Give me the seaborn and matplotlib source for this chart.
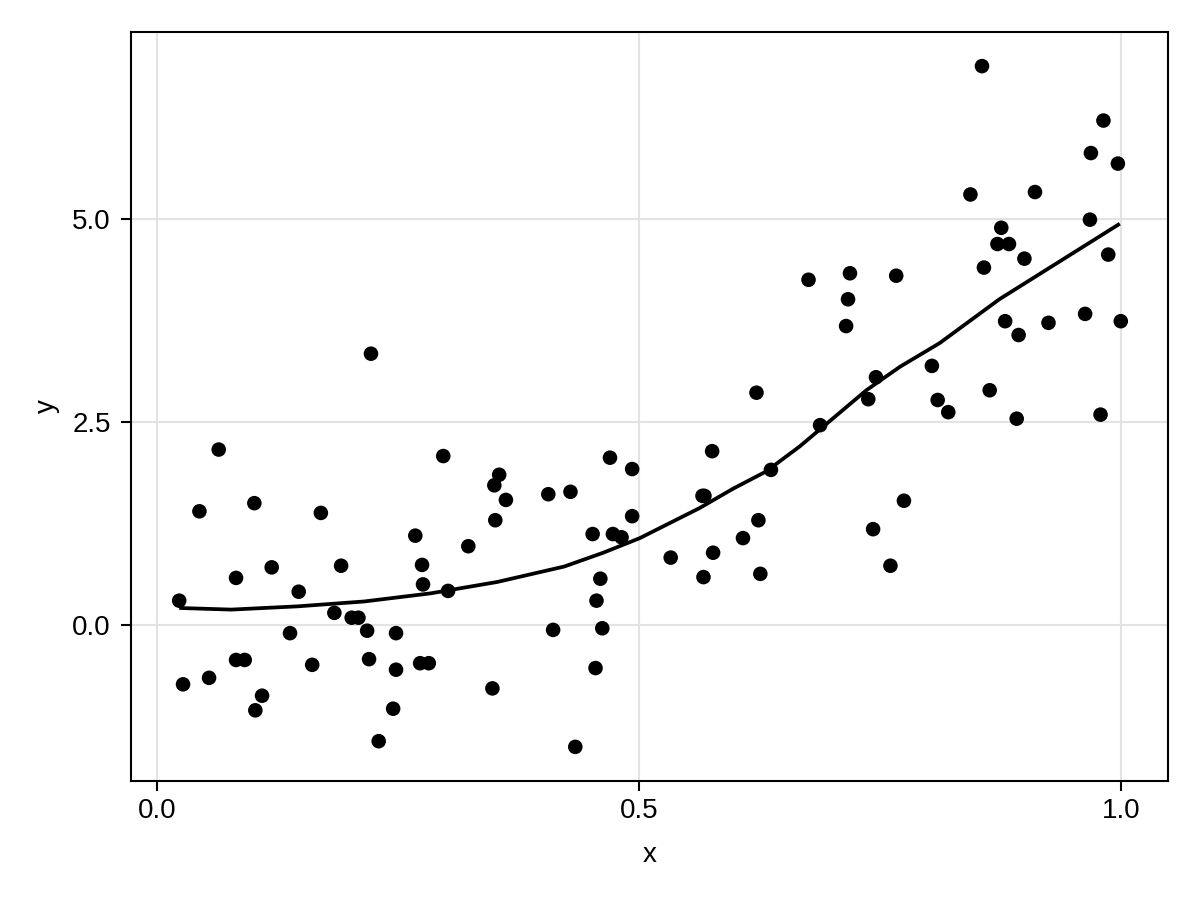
import numpy as np
import pandas as pd
import matplotlib
matplotlib.use("Agg")
import matplotlib.pyplot as plt
import seaborn as sns

# scatter data
x_pts = [0.023, 0.027, 0.044, 0.054, 0.064, 0.082, 0.082, 0.091, 0.101, 0.102,
         0.109, 0.119, 0.138, 0.147, 0.161, 0.170, 0.184, 0.191, 0.202, 0.209,
         0.218, 0.220, 0.222, 0.230, 0.245, 0.248, 0.248, 0.268, 0.273, 0.275,
         0.276, 0.282, 0.297, 0.302, 0.323, 0.348, 0.350, 0.351, 0.355, 0.362,
         0.406, 0.411, 0.429, 0.434, 0.452, 0.455, 0.456, 0.460, 0.462, 0.470,
         0.473, 0.482, 0.493, 0.493, 0.533, 0.566, 0.568, 0.567, 0.576, 0.577,
         0.608, 0.622, 0.624, 0.626, 0.637, 0.676, 0.688, 0.715, 0.717, 0.719,
         0.738, 0.743, 0.746, 0.761, 0.767, 0.775, 0.804, 0.810, 0.821, 0.844,
         0.856, 0.858, 0.864, 0.872, 0.876, 0.880, 0.884, 0.892, 0.894, 0.900,
         0.911, 0.925, 0.963, 0.968, 0.969, 0.979, 0.982, 0.987, 0.997, 1.000]
y_pts = [0.30, -0.73, 1.40, -0.65, 2.16, 0.58, -0.43, -0.43, 1.50, -1.05,
         -0.87, 0.71, -0.10, 0.41, -0.49, 1.38, 0.15, 0.73, 0.09, 0.09,
         -0.07, -0.42, 3.34, -1.43, -1.03, -0.10, -0.55, 1.10, -0.47, 0.74,
         0.50, -0.47, 2.08, 0.42, 0.97, -0.78, 1.72, 1.29, 1.85, 1.54,
         1.61, -0.06, 1.64, -1.50, 1.12, -0.53, 0.30, 0.57, -0.04, 2.06,
         1.12, 1.08, 1.92, 1.34, 0.83, 1.59, 1.59, 0.59, 2.14, 0.89,
         1.07, 2.86, 1.29, 0.63, 1.91, 4.25, 2.46, 3.68, 4.01, 4.33,
         2.78, 1.18, 3.05, 0.73, 4.30, 1.53, 3.19, 2.77, 2.62, 5.30,
         6.88, 4.40, 2.89, 4.69, 4.89, 3.74, 4.69, 2.54, 3.57, 4.51,
         5.33, 3.72, 3.83, 4.99, 5.81, 2.59, 6.21, 4.56, 5.68, 3.74]

# smooth fit line
x_fit = [0.023, 0.077, 0.146, 0.215, 0.284, 0.353, 0.4225, 0.463, 0.501,
         0.563, 0.598, 0.632, 0.667, 0.702, 0.736, 0.771, 0.812, 0.874, 0.999]
y_fit = [0.21, 0.19, 0.23, 0.29, 0.39, 0.53, 0.72, 0.89, 1.07,
         1.44, 1.68, 1.89, 2.20, 2.55, 2.89, 3.18, 3.47, 4.01, 4.94]

x_ticks = [0.0, 0.5, 1.0]
x_ticklabels = ["0.0", "0.5", "1.0"]
y_ticks = [0.0, 2.5, 5.0]
y_ticklabels = ["0.0", "2.5", "5.0"]

sns.set_style("white")
plt.rcParams['font.family'] = ['Liberation Sans', 'DejaVu Sans']

fig = plt.figure(figsize=(12, 9), dpi=100)
ax = fig.add_axes([131 / 1200, 1 - 781 / 900, (1168 - 131) / 1200, (781 - 32) / 900])

df_pts = pd.DataFrame({"x": x_pts, "y": y_pts})
df_fit = pd.DataFrame({"x": x_fit, "y": y_fit})

sns.scatterplot(data=df_pts, x="x", y="y", ax=ax, color="black", s=110,
                edgecolor="none", linewidth=0, zorder=3)
sns.lineplot(data=df_fit, x="x", y="y", ax=ax, color="black", linewidth=2.7,
             zorder=4, sort=True, estimator=None,
             solid_joinstyle="round", solid_capstyle="butt")

ax.set_xlim(-0.027, 1.049)
ax.set_ylim(-1.92, 7.30)
ax.set_xticks(x_ticks)
ax.set_xticklabels(x_ticklabels)
ax.set_yticks(y_ticks)
ax.set_yticklabels(y_ticklabels)

ax.grid(True, color="#e3e3e3", linewidth=1.5, zorder=0)
ax.set_axisbelow(True)
for sp in ax.spines.values():
    sp.set_visible(True)
    sp.set_color("black")
    sp.set_linewidth(1.5)

ax.tick_params(axis="both", which="major", direction="out", length=7.5, width=1.5,
               color="black", labelsize=20, labelcolor="black",
               bottom=True, left=True)
ax.tick_params(axis="x", pad=5)
ax.tick_params(axis="y", pad=7)
ax.set_xlabel("x", fontsize=20, labelpad=13, color="black")
ax.set_ylabel("y", fontsize=20, labelpad=9, color="black")

fig.savefig("out.png", dpi=100, facecolor="white")
